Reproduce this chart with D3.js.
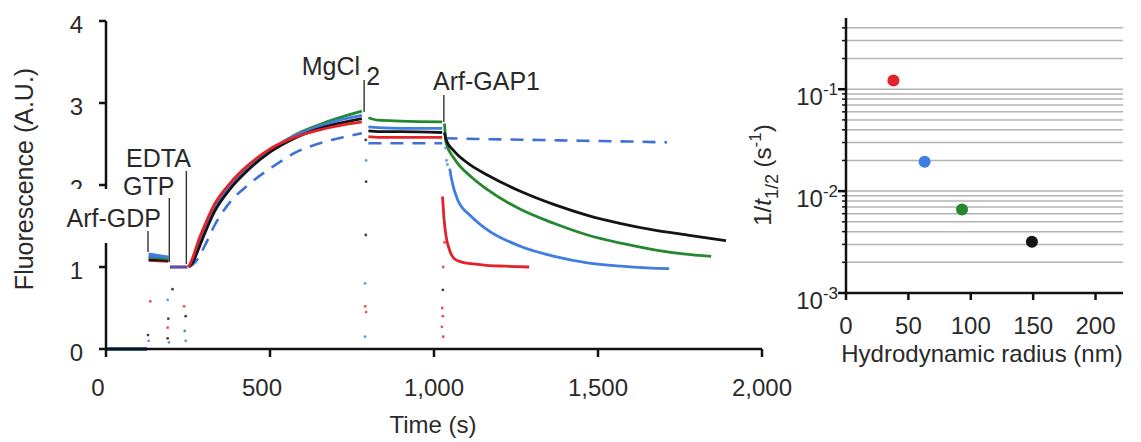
<!DOCTYPE html>
<html><head><meta charset="utf-8">
<script src="https://cdn.jsdelivr.net/npm/d3@7"></script>
<style>
body{margin:0;background:#fff}
svg{display:block}
text{font-family:"Liberation Sans",Arial,Helvetica,sans-serif;fill:#2a2a2a}
</style>
</head><body>
<svg id="c" width="1141" height="442"></svg>
<script>
// ---------------- DATA (left panel: fluorescence vs time) ----------------
const timeTicks = [0, 500, 1000, 1500, 2000];
const timeTickLabels = ["0", "500", "1,000", "1,500", "2,000"];
const fluoTicks = [0, 1, 2, 3, 4];

const eventNames = ["Arf-GDP", "GTP", "EDTA", "MgCl", "Arf-GAP1"];
const eventTimes = [128, 193, 245, 787, 1030];

// baseline, Arf-GDP, GTP phases (times)
const tBase = [0, 125];
const tArf = [130, 190];
const tGtp = [195, 248];
// EDTA exchange phase
const tRise = [252, 265, 280, 300, 330, 380, 430, 500, 580, 660, 720, 780];
// after MgCl2
const tMg = [800, 830, 900, 1025];

const vBase = [0, 0];
const arfRed = [1.08, 1.07];
const arfBlack = [1.09, 1.08];
const arfGreen = [1.12, 1.10];
const arfBlue = [1.16, 1.12];
const arfDash = [1.13, 1.12];
const gtpAll = [1.0, 1.0];

const riseRed   = [1.0, 1.12, 1.30, 1.50, 1.76, 2.03, 2.23, 2.44, 2.59, 2.68, 2.73, 2.77];
const riseBlack = [1.0, 1.06, 1.20, 1.40, 1.67, 1.96, 2.17, 2.40, 2.58, 2.70, 2.76, 2.81];
const riseBlue  = [1.0, 1.08, 1.24, 1.44, 1.71, 1.99, 2.19, 2.42, 2.61, 2.73, 2.80, 2.85];
const riseGreen = [1.0, 1.08, 1.23, 1.43, 1.70, 1.98, 2.19, 2.42, 2.62, 2.75, 2.83, 2.90];
const riseDash  = [1.0, 1.03, 1.10, 1.25, 1.50, 1.80, 1.99, 2.20, 2.40, 2.52, 2.58, 2.63];

const mgGreen = [2.82, 2.79, 2.78, 2.77];
const mgBlue  = [2.71, 2.70, 2.69, 2.69];
const mgBlack = [2.66, 2.65, 2.65, 2.64];
const mgRed   = [2.59, 2.58, 2.58, 2.58];
const mgDash  = [2.51, 2.51, 2.51, 2.51];

// after Arf-GAP1
const gapTBlack = [1032, 1037, 1062, 1113, 1164, 1265, 1367, 1468, 1570, 1672, 1773, 1890];
const gapBlack  = [2.64, 2.55, 2.41, 2.24, 2.12, 1.92, 1.76, 1.63, 1.53, 1.45, 1.39, 1.32];
const gapTGreen = [1032, 1037, 1062, 1113, 1164, 1265, 1367, 1468, 1570, 1672, 1760, 1845];
const gapGreen  = [2.75, 2.51, 2.32, 2.10, 1.94, 1.70, 1.53, 1.39, 1.29, 1.21, 1.16, 1.13];
const gapTBlue  = [1048, 1052, 1072, 1113, 1164, 1265, 1367, 1468, 1570, 1650, 1717];
const gapBlue   = [2.20, 2.10, 1.82, 1.62, 1.45, 1.25, 1.13, 1.05, 1.01, 0.99, 0.98];
const gapTRed   = [1026, 1031, 1037, 1047, 1062, 1085, 1113, 1160, 1214, 1290];
const gapRed    = [1.86, 1.57, 1.37, 1.21, 1.10, 1.06, 1.04, 1.02, 1.01, 1.00];
const gapTDash  = [1032, 1150, 1300, 1450, 1600, 1710];
const gapDash   = [2.57, 2.56, 2.55, 2.54, 2.53, 2.52];

// transient points recorded during injections
const dotT = [135, 128, 130, 188, 203, 188, 188, 190, 192, 238, 243, 243, 240,
              793, 793, 792, 790, 790, 793, 790, 792,
              1027, 1025, 1027, 1024, 1028, 1030, 1032, 1035, 1038, 1041, 1028];
const dotV = [0.58, 0.17, 0.10, 0.60, 0.73, 0.13, 0.26, 0.37, 0.08, 0.52, 0.40, 0.10, 0.22,
              2.30, 2.04, 1.39, 0.80, 0.52, 0.45, 0.15, 2.55,
              0.72, 0.50, 0.40, 0.27, 0.15, 1.60, 1.30, 2.45, 2.30, 2.25, 1.00];
const dotS = ["red", "black", "blue", "blue", "black", "black", "red", "black", "blue", "red", "black", "blue", "green",
              "blue", "black", "black", "blue", "red", "red", "blue", "black",
              "black", "red", "red", "red", "red", "green", "red", "blue", "blue", "blue", "red"];

// ---------------- DATA (right panel: rate vs radius) ----------------
const radiusNm = [38, 63, 93, 149];
const rateInvHalf = [0.122, 0.0194, 0.0066, 0.00318];
const rateSeries = ["red", "blue", "green", "black"];
const radiusTicks = [0, 50, 100, 150, 200];
const rateMajor = [1e-3, 1e-2, 1e-1];
const rateMajorExp = ["-3", "-2", "-1"];

// ---------------- STYLE ----------------
const colors = {red: "#e3222a", black: "#141414", blue: "#3f7de2", green: "#25882f", dash: "#3d70d8"};

const svg = d3.select("#c");
svg.append("rect").attr("width", 1141).attr("height", 442).attr("fill", "#fff");

// ---------------- LEFT PANEL ----------------
const x = d3.scaleLinear().domain([0, 2000]).range([106, 762]);
const y = d3.scaleLinear().domain([0, 4]).range([349, 21]);
const line = d3.line().x(d => x(d[0])).y(d => y(d[1])).curve(d3.curveMonotoneX);
const zip = (t, v) => t.map((tt, i) => [tt, v[i]]);

const gL = svg.append("g");
const drawSeg = (t, v, col, dashed) => {
  gL.append("path").attr("d", line(zip(t, v))).attr("fill", "none")
    .attr("stroke", col).attr("stroke-width", dashed ? 2.6 : 2.8)
    .attr("stroke-linecap", "butt")
    .attr("stroke-dasharray", dashed ? "13,9" : null);
};

// early phases (blue ends up visible on top)
[["red", arfRed], ["black", arfBlack], ["green", arfGreen], ["dash", arfDash], ["blue", arfBlue]].forEach(([k, a]) => {
  drawSeg(tBase, vBase, colors[k], false);
  drawSeg(tArf, a, colors[k], false);
});
drawSeg(tGtp, gtpAll, colors.red, false);
drawSeg(tGtp, gtpAll, "#5a4fb0", false);

// dashed control (no GAP)
drawSeg(tRise, riseDash, colors.dash, true);
drawSeg(tMg, mgDash, colors.dash, true);
drawSeg(gapTDash, gapDash, colors.dash, true);
// green, blue, black, red
drawSeg(tRise, riseGreen, colors.green); drawSeg(tMg, mgGreen, colors.green); drawSeg(gapTGreen, gapGreen, colors.green);
drawSeg(tRise, riseBlue, colors.blue); drawSeg(tMg, mgBlue, colors.blue); drawSeg(gapTBlue, gapBlue, colors.blue);
drawSeg(tRise, riseBlack, colors.black); drawSeg(tMg, mgBlack, colors.black); drawSeg(gapTBlack, gapBlack, colors.black);
drawSeg(tRise, riseRed, colors.red); drawSeg(tMg, mgRed, colors.red); drawSeg(gapTRed, gapRed, colors.red);

// transient dots
gL.selectAll("circle.d").data(dotT).join("circle")
  .attr("cx", (d, i) => x(d)).attr("cy", (d, i) => y(dotV[i])).attr("r", 1.4)
  .attr("fill", (d, i) => colors[dotS[i]]).attr("opacity", 0.8);

// axes
const axL = svg.append("g");
axL.append("line").attr("x1", x(0)).attr("x2", x(0)).attr("y1", y(0)).attr("y2", y(4))
  .attr("stroke", "#111").attr("stroke-width", 2.5);
axL.append("line").attr("x1", x(0) - 1).attr("x2", x(2000)).attr("y1", y(0)).attr("y2", y(0))
  .attr("stroke", "#111").attr("stroke-width", 2.5);
fluoTicks.forEach(v => {
  axL.append("line").attr("x1", x(0) - 7).attr("x2", x(0)).attr("y1", y(v)).attr("y2", y(v))
    .attr("stroke", "#111").attr("stroke-width", 2.5);
  axL.append("text").attr("x", x(0) - 23).attr("y", y(v) + 12).attr("text-anchor", "end")
    .attr("font-size", 24).text(String(v));
});
timeTicks.forEach((t, i) => {
  axL.append("line").attr("x1", x(t)).attr("x2", x(t)).attr("y1", y(0)).attr("y2", y(0) + 8)
    .attr("stroke", "#111").attr("stroke-width", 2.5);
  axL.append("text").attr("x", x(t) - (i < 2 ? 8 : 0)).attr("y", 396).attr("text-anchor", "middle")
    .attr("font-size", 24).text(timeTickLabels[i]);
});
svg.append("text").attr("x", 433).attr("y", 433).attr("text-anchor", "middle")
  .attr("font-size", 24).text("Time (s)");
svg.append("text").attr("transform", "translate(33,179) rotate(-90)").attr("text-anchor", "middle")
  .attr("font-size", 25).text("Fluorescence (A.U.)");

// annotations
const ann = svg.append("g");
ann.append("rect").attr("x", 58).attr("y", 189).attr("width", 104).attr("height", 54).attr("fill", "#fff");
const annLine = (t, y1, y2) => ann.append("line").attr("x1", x(t)).attr("x2", x(t)).attr("y1", y1).attr("y2", y2)
  .attr("stroke", "#333").attr("stroke-width", 1.4);
annLine(eventTimes[0], 231, 252);
annLine(eventTimes[1], 198, 262);
annLine(eventTimes[2], 171, 264);
annLine(eventTimes[3], 80, 112);
annLine(eventTimes[4], 95, 122);
ann.append("text").attr("x", 161).attr("y", 227).attr("text-anchor", "end").attr("font-size", 25).text(eventNames[0]);
ann.append("text").attr("x", 123).attr("y", 195).attr("font-size", 25).text(eventNames[1]);
ann.append("text").attr("x", 126).attr("y", 167).attr("font-size", 25).text(eventNames[2]);
ann.append("text").attr("x", x(eventTimes[3]) - 4).attr("y", 75).attr("text-anchor", "end").attr("font-size", 25).text(eventNames[3]);
ann.append("text").attr("x", x(eventTimes[3]) + 2).attr("y", 85).attr("font-size", 25).text("2");
ann.append("text").attr("x", 433).attr("y", 90).attr("font-size", 25).text(eventNames[4]);

// ---------------- RIGHT PANEL ----------------
const xr = d3.scaleLinear().domain([0, 222]).range([846, 1123]);
const yr = d3.scaleLog().domain([1e-3, 0.5]).range([293, 18]);
const gR = svg.append("g");
const minor = yr.ticks().filter(v => v > 1.0001e-3 && v < 0.499);
gR.selectAll("line.grid").data(minor).join("line")
  .attr("x1", xr(0)).attr("x2", xr(222)).attr("y1", d => yr(d)).attr("y2", d => yr(d))
  .attr("stroke", "#b4b4b4").attr("stroke-width", 1.5);
// minor ticks
gR.selectAll("line.mt").data(minor).join("line")
  .attr("x1", xr(0) - 4).attr("x2", xr(0)).attr("y1", d => yr(d)).attr("y2", d => yr(d))
  .attr("stroke", "#111").attr("stroke-width", 1.5);
// axes
gR.append("line").attr("x1", xr(0)).attr("x2", xr(0)).attr("y1", yr(1e-3)).attr("y2", yr(0.5))
  .attr("stroke", "#111").attr("stroke-width", 2.5);
gR.append("line").attr("x1", xr(0) - 1).attr("x2", xr(222)).attr("y1", yr(1e-3)).attr("y2", yr(1e-3))
  .attr("stroke", "#111").attr("stroke-width", 2.5);
rateMajor.forEach((v, i) => {
  gR.append("line").attr("x1", xr(0) - 8).attr("x2", xr(0)).attr("y1", yr(v)).attr("y2", yr(v))
    .attr("stroke", "#111").attr("stroke-width", 2.5);
  const t = gR.append("text").attr("x", 838).attr("y", yr(v) + 16).attr("text-anchor", "end").attr("font-size", 24);
  t.append("tspan").text("10");
  t.append("tspan").attr("font-size", 17).attr("dy", -10).text(rateMajorExp[i]);
});
radiusTicks.forEach(r => {
  gR.append("line").attr("x1", xr(r)).attr("x2", xr(r)).attr("y1", yr(1e-3)).attr("y2", yr(1e-3) + 7)
    .attr("stroke", "#111").attr("stroke-width", 2.5);
  gR.append("text").attr("x", xr(r)).attr("y", 334).attr("text-anchor", "middle").attr("font-size", 24).text(String(r));
});
gR.selectAll("circle.p").data(radiusNm).join("circle")
  .attr("cx", d => xr(d)).attr("cy", (d, i) => yr(rateInvHalf[i])).attr("r", 6)
  .attr("fill", (d, i) => colors[rateSeries[i]]);
svg.append("text").attr("x", 982).attr("y", 362).attr("text-anchor", "middle").attr("font-size", 24)
  .text("Hydrodynamic radius (nm)");
// y label 1/t1/2 (s-1)
const yl = svg.append("text").attr("transform", "translate(771,175) rotate(-90)").attr("text-anchor", "middle").attr("font-size", 24);
yl.append("tspan").text("1/");
yl.append("tspan").attr("font-style", "italic").text("t");
yl.append("tspan").attr("font-size", 18).attr("dy", 7).text("1/2");
yl.append("tspan").attr("dy", -7).text(" (s");
yl.append("tspan").attr("font-size", 17).attr("dy", -10).text("-1");
yl.append("tspan").attr("dy", 10).text(")");
</script>
</body></html>
